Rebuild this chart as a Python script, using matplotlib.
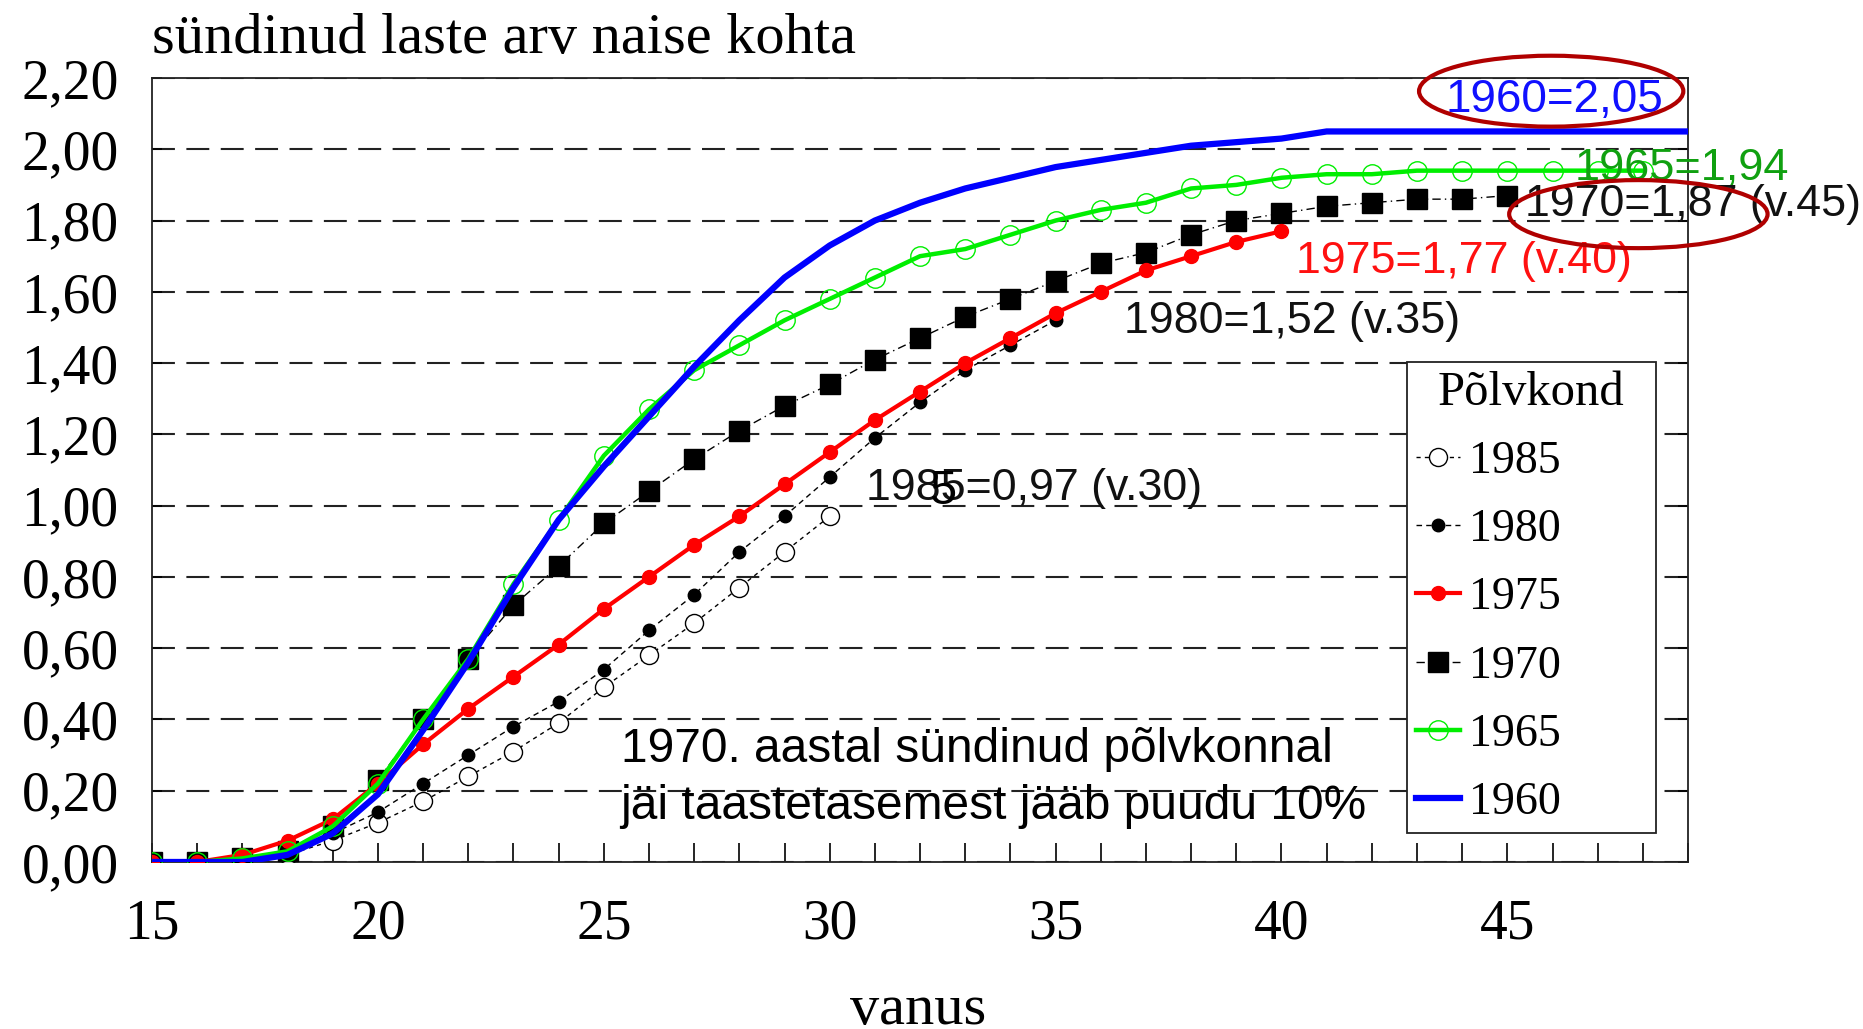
import numpy as np
import matplotlib
matplotlib.use('Agg')
import matplotlib.pyplot as plt
from matplotlib.patches import Ellipse
from matplotlib.ticker import MultipleLocator, FuncFormatter

# cumulative children per woman by age, per birth cohort
ages_1985 = list(range(15, 31))
val_1985 = [0.00, 0.00, 0.01, 0.02, 0.06, 0.11, 0.17, 0.24, 0.31, 0.39,
            0.49, 0.58, 0.67, 0.77, 0.87, 0.97]

ages_1980 = list(range(15, 36))
val_1980 = [0.00, 0.00, 0.01, 0.03, 0.08, 0.14, 0.22, 0.30, 0.38, 0.45,
            0.54, 0.65, 0.75, 0.87, 0.97, 1.08, 1.19, 1.29, 1.38, 1.45, 1.52]

ages_1975 = list(range(15, 41))
val_1975 = [0.00, 0.00, 0.02, 0.06, 0.12, 0.22, 0.33, 0.43, 0.52, 0.61,
            0.71, 0.80, 0.89, 0.97, 1.06, 1.15, 1.24, 1.32, 1.40, 1.47,
            1.54, 1.60, 1.66, 1.70, 1.74, 1.77]

ages_1970 = list(range(15, 46))
val_1970 = [0.00, 0.00, 0.01, 0.03, 0.10, 0.23, 0.40, 0.57, 0.72, 0.83,
            0.95, 1.04, 1.13, 1.21, 1.28, 1.34, 1.41, 1.47, 1.53, 1.58,
            1.63, 1.68, 1.71, 1.76, 1.80, 1.82, 1.84, 1.85, 1.86, 1.86, 1.87]

ages_1965 = list(range(15, 49))
val_1965 = [0.00, 0.00, 0.01, 0.03, 0.10, 0.22, 0.40, 0.57, 0.78, 0.96,
            1.14, 1.27, 1.38, 1.45, 1.52, 1.58, 1.64, 1.70, 1.72, 1.76,
            1.80, 1.83, 1.85, 1.89, 1.90, 1.92, 1.93, 1.93, 1.94, 1.94,
            1.94, 1.94, 1.94, 1.94]

ages_1960 = list(range(15, 50))
val_1960 = [0.00, 0.00, 0.00, 0.02, 0.08, 0.19, 0.37, 0.56, 0.77, 0.96,
            1.11, 1.25, 1.39, 1.52, 1.64, 1.73, 1.80, 1.85, 1.89, 1.92,
            1.95, 1.97, 1.99, 2.01, 2.02, 2.03, 2.05, 2.05, 2.05, 2.05,
            2.05, 2.05, 2.05, 2.05, 2.05]

title = 'sündinud laste arv naise kohta'
xlabel = 'vanus'
legend_title = 'Põlvkond'
note = '1970. aastal sündinud põlvkonnal\njäi taastetasemest jääb puudu 10%'

SERIF = ['Liberation Serif', 'DejaVu Serif']
SANS = ['Liberation Sans', 'DejaVu Sans']


def main():
    fig = plt.figure(figsize=(18.63, 10.29), dpi=100)
    ax = fig.add_axes([0.0816, 0.1623, 0.8245, 0.7619])

    l85, = ax.plot(ages_1985, val_1985, color='black', lw=1,
                   linestyle=(0, (3, 3)), marker='o', ms=13,
                   mfc='white', mec='black', mew=1, zorder=3)
    l80, = ax.plot(ages_1980, val_1980, color='black', lw=1,
                   linestyle=(0, (4, 3)), marker='o', ms=9,
                   mfc='black', mec='black', zorder=3)
    l70, = ax.plot(ages_1970, val_1970, color='black', lw=1,
                   linestyle=(0, (6, 3, 1, 3)), marker='s', ms=14,
                   mfc='black', mec='black', zorder=3)
    l75, = ax.plot(ages_1975, val_1975, color='#ff0000', lw=3,
                   marker='o', ms=10, mfc='#ff0000', mec='#ff0000', zorder=4)
    l65, = ax.plot(ages_1965, val_1965, color='#00ee00', lw=3.2,
                   marker='o', ms=14, mfc='none', mec='#00ee00', mew=1,
                   zorder=5)
    l60, = ax.plot(ages_1960, val_1960, color='#0000ff', lw=4.5, zorder=6)

    ax.set_xlim(15, 49)
    ax.set_ylim(0, 2.2)
    ax.xaxis.set_major_locator(MultipleLocator(5))
    ax.xaxis.set_minor_locator(MultipleLocator(1))
    ax.yaxis.set_major_locator(MultipleLocator(0.2))
    ax.yaxis.set_major_formatter(
        FuncFormatter(lambda v, p: f'{v:.2f}'.replace('.', ',')))

    ax.yaxis.grid(True, linestyle=(0, (11, 5.5)), color='#222222', lw=1.5)
    ax.set_axisbelow(True)

    ax.tick_params(axis='x', which='both', direction='in', length=14,
                   width=1.2, pad=26, labelsize=40)
    ax.tick_params(axis='y', which='both', direction='in', length=7,
                   width=1.2, pad=24, labelsize=40, right=True)
    for lab in ax.get_xticklabels() + ax.get_yticklabels():
        lab.set_family(SERIF)
    for s in ax.spines.values():
        s.set_linewidth(1.3)
        s.set_color('#222222')

    fig.text(152 / 1863, 1 - 53 / 1029, title, family=SERIF, fontsize=42,
             va='baseline', ha='left')
    fig.text(918 / 1863, 1 - 1010 / 1029, xlabel, family=SERIF, fontsize=42,
             va='center', ha='center')

    # value labels at the end of each curve
    ax.text(43.62, 2.138, '1960=2,05', color='#1010ff', family=SANS,
            fontsize=33, va='center', ha='left', zorder=7)
    ax.text(46.50, 1.947, '1965=1,94', color='#10a010', family=SANS,
            fontsize=32.5, va='center', ha='left', zorder=7)
    ax.text(45.39, 1.846, '1970=1,87 (v.45)', color='#111111', family=SANS,
            fontsize=32.2, va='center', ha='left', zorder=7)
    ax.text(40.32, 1.686, '1975=1,77 (v.40)', color='#ff1010', family=SANS,
            fontsize=32.2, va='center', ha='left', zorder=7)
    ax.text(36.51, 1.518, '1980=1,52 (v.35)', color='#111111', family=SANS,
            fontsize=32.2, va='center', ha='left', zorder=7)
    ax.text(30.80, 1.049, '1985=0,97 (v.30)', color='#111111', family=SANS,
            fontsize=32.2, va='center', ha='left', zorder=7)
    ax.text(32.20, 1.040, '5', color='black', family=SANS,
            fontsize=35, va='center', ha='left', zorder=8)

    ax.text(25.37, 0.236, note, color='black', family=SANS, fontsize=34.5,
            va='center', ha='left', linespacing=1.36, zorder=7)

    for cx, cy, w, h in [(45.97, 2.163, 5.85, 0.199),
                         (47.90, 1.818, 5.72, 0.191)]:
        ax.add_patch(Ellipse((cx, cy), w, h, fill=False, edgecolor='#b00000',
                             lw=3, clip_on=False, zorder=9))

    leg = ax.legend([l85, l80, l75, l70, l65, l60],
                    ['1985', '1980', '1975', '1970', '1965', '1960'],
                    title=legend_title, loc='upper left',
                    bbox_to_anchor=(0.817, 0.0, 0.162, 0.638),
                    mode='expand', borderaxespad=0,
                    fancybox=False, framealpha=1, edgecolor='#222222',
                    prop={'family': SERIF, 'size': 33},
                    handlelength=0.95, handletextpad=0.2, labelspacing=0.56,
                    borderpad=0.2)
    leg.get_title().set_family(SERIF)
    leg.get_title().set_fontsize(35)
    leg.get_frame().set_linewidth(1.3)
    leg.set_zorder(10)

    fig.savefig('out.png', dpi=100)


if __name__ == '__main__':
    main()
